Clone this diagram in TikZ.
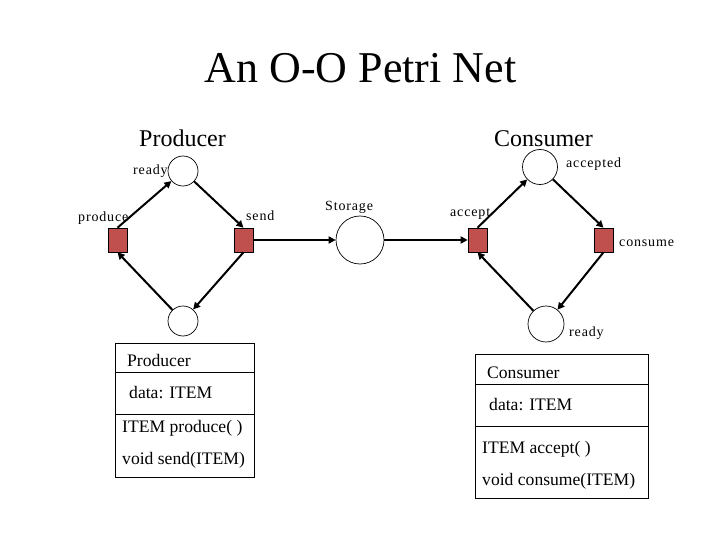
\documentclass[tikz,border=0pt]{standalone}
\usepackage{fontspec}
\setmainfont{Liberation Serif}
\usetikzlibrary{arrows.meta}
\definecolor{trred}{RGB}{192,80,77}
\tikzset{
  place/.style={circle,draw=black,line width=0.7pt,inner sep=0pt,minimum size=#1},
  trans/.style={rectangle,draw=black,line width=0.6pt,fill=trred,minimum width=19pt,minimum height=24pt,inner sep=0pt},
  arc/.style={line width=2pt,-{Triangle[length=7pt,width=7pt]}},
  lbl/.style={font=\fontsize{14}{16}\selectfont\addfontfeature{LetterSpace=6},inner sep=0pt,anchor=base west},
  head/.style={font=\fontsize{24}{28}\selectfont,inner sep=0pt,anchor=base west},
  boxtxt/.style={font=\fontsize{17.6}{20}\selectfont,inner sep=0pt,anchor=base west},
  classbox/.style={draw=black,line width=0.8pt}
}
\begin{document}
\begin{tikzpicture}[x=1pt,y=-1pt]
\useasboundingbox (0,0) rectangle (720,540);
% title
\node[font=\fontsize{44}{50}\selectfont,inner sep=0pt,anchor=base] (title) at (360.5,83) {An O-O Petri Net};
\node[head] (hprod) at (139,147) {Producer};
\node[head] (hcons) at (494,147) {Consumer};
% places
\node[place=30pt] (ready1) at (183,171) {};
\node[place=30pt] (bot1) at (183,321) {};
\node[place=48pt] (storage) at (360,240) {};
\node[place=35pt] (accepted) at (540,167) {};
\node[place=36pt] (ready2) at (546,324) {};
% transitions
\node[trans] (produce) at (117.5,240) {};
\node[trans] (send) at (243.5,240) {};
\node[trans] (accept) at (477.5,240) {};
\node[trans] (consume) at (603.5,240) {};
% labels
\node[lbl] (lready1) at (133,175) {ready};
\node[lbl] (lproduce) at (78,222) {produce};
\node[lbl] (lsend) at (246,221) {send};
\node[lbl] (lstorage) at (325,211) {Storage};
\node[lbl] (laccepted) at (566,168) {accepted};
\node[lbl] (laccept) at (450,216) {accept};
\node[lbl] (lconsume) at (619,246) {consume};
\node[lbl] (lready2) at (569,336) {ready};
% arcs
\draw[arc] (produce.north) -- (ready1);
\draw[arc] (ready1) -- (send.north);
\draw[arc] (send.south) -- (bot1);
\draw[arc] (bot1) -- (produce.south);
\draw[arc] (send.east) -- (storage);
\draw[arc] (storage) -- (accept.west);
\draw[arc] (accept.north) -- (accepted);
\draw[arc] (accepted) -- (consume.north);
\draw[arc] (consume.south) -- (ready2);
\draw[arc] (ready2) -- (accept.south);
% producer class box
\draw[classbox] (115,343) rectangle (254,477);
\draw[classbox] (115,372) -- (254,372);
\draw[classbox] (115,414) -- (254,414);
\node[boxtxt] (pname) at (127,366) {Producer};
\node[boxtxt] (pdata) at (129,398) {data: ITEM};
\node[boxtxt] (pm1) at (122,432) {ITEM produce( )};
\node[boxtxt] (pm2) at (122,464) {void send(ITEM)};
% consumer class box
\draw[classbox] (475,354) rectangle (648,498);
\draw[classbox] (475,384) -- (648,384);
\draw[classbox] (475,426) -- (648,426);
\node[boxtxt] (cname) at (487,378) {Consumer};
\node[boxtxt] (cdata) at (489,410) {data: ITEM};
\node[boxtxt] (cm1) at (482,453) {ITEM accept( )};
\node[boxtxt] (cm2) at (482,485) {void consume(ITEM)};
\end{tikzpicture}
\end{document}
